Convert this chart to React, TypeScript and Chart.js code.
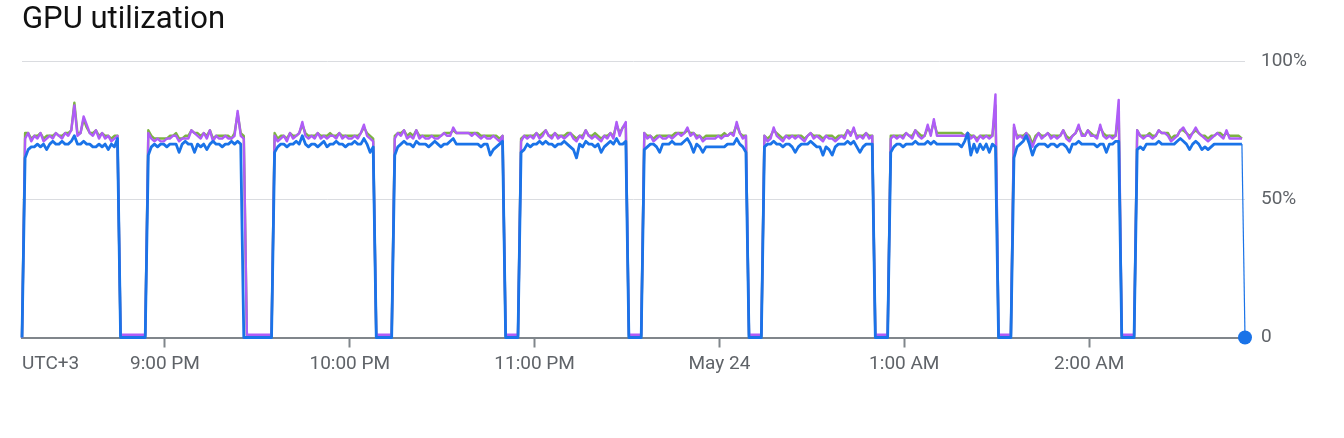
import { useEffect, useRef } from 'react';
import { Chart, registerables } from 'chart.js';

Chart.register(...registerables);

// Time axis: minutes after 8:00 PM (UTC+3), one sample per minute
const firstSampleMinute = 13.6;
const sampleStepMinutes = 1;
const axisMinMinute = 13.6;
const axisMaxMinute = 410.6;
const timeTickMinutes = [60, 120, 180, 240, 300, 360];
const timeTickLabels = ['9:00 PM', '10:00 PM', '11:00 PM', 'May 24', '1:00 AM', '2:00 AM'];
const timezoneLabel = 'UTC+3';

const valueTicks = [0, 50, 100];
const valueTickLabels = ['0', '50%', '100%'];

const chartTitle = 'GPU utilization';
const seriesNames = ['GPU 0', 'GPU 1', 'GPU 2'];

// GPU utilization (%) per minute, blue series (last value is the live point)
const blueValues = [
  0,
  65, 68, 69, 69, 70, 69, 70, 68, 70, 71, 70, 70, 71, 70, 70, 71, 73, 70, 70, 71, 70, 70, 69, 69, 70, 69, 70, 68, 70, 69, 72,
  0, 0, 0, 0, 0, 0, 0, 0, 0,
  66, 69, 70, 69, 70, 70, 69, 70, 70, 70, 67, 70, 71, 70, 70, 67, 70, 69, 70, 68, 70, 71, 70, 70, 69, 70, 70, 71, 70, 71, 70,
  0, 0, 0, 0, 0, 0, 0, 0, 0, 0,
  67, 69, 70, 70, 69, 70, 70, 71, 70, 73, 70, 69, 70, 70, 69, 70, 71, 69, 70, 70, 71, 70, 70, 69, 70, 70, 71, 70, 70, 72, 70, 67, 69,
  0, 0, 0, 0, 0, 0,
  66, 69, 70, 71, 70, 70, 69, 71, 70, 70, 70, 69, 70, 71, 70, 69, 70, 70, 71, 72, 70, 70, 70, 70, 70, 70, 70, 70, 69, 70, 70, 66, 68, 69, 70, 71,
  0, 0, 0, 0, 0,
  67, 68, 70, 69, 70, 70, 71, 70, 71, 70, 70, 69, 70, 70, 71, 70, 69, 68, 65, 70, 69, 71, 70, 70, 69, 70, 67, 69, 70, 71, 70, 72, 70, 70, 71,
  0, 0, 0, 0, 0,
  68, 69, 70, 70, 69, 67, 70, 70, 70, 71, 70, 70, 70, 71, 72, 70, 67, 70, 69, 67, 69, 69, 69, 69, 69, 69, 69, 70, 70, 70, 72, 70, 69, 67,
  0, 0, 0, 0, 0,
  69, 70, 70, 71, 70, 70, 69, 70, 70, 69, 67, 69, 70, 70, 70, 71, 70, 69, 69, 66, 69, 68, 66, 69, 70, 70, 70, 71, 70, 71, 69, 67, 69, 70, 70, 70,
  0, 0, 0, 0, 0,
  67, 69, 70, 70, 69, 70, 70, 70, 71, 70, 70, 70, 71, 70, 71, 70, 70, 70, 70, 70, 70, 70, 70, 69, 71, 74, 66, 70, 67, 70, 68, 70, 67, 70, 69,
  0, 0, 0, 0, 0,
  65, 69, 70, 71, 73, 70, 66, 69, 70, 70, 70, 69, 70, 70, 69, 70, 70, 69, 67, 70, 70, 71, 70, 70, 70, 70, 70, 69, 70, 70, 67, 70, 70, 71, 71,
  0, 0, 0, 0, 0,
  68, 69, 68, 70, 70, 70, 70, 71, 70, 70, 70, 70, 70, 71, 72, 71, 70, 68, 70, 71, 70, 68, 69, 68, 69, 70, 70, 70, 70, 70, 70, 70, 70, 70, 70,
  0,
];

// purple series
const purpleValues = [
  0,
  72, 74, 71, 73, 72, 74, 71, 72, 73, 72, 74, 73, 72, 74, 73, 75, 84, 73, 74, 80, 77, 74, 73, 75, 72, 74, 72, 73, 71, 72, 73,
  1, 1, 1, 1, 1, 1, 1, 1, 1,
  74, 72, 71, 72, 71, 71, 72, 72, 73, 73, 71, 72, 72, 72, 75, 74, 73, 72, 74, 72, 75, 71, 73, 72, 72, 73, 72, 72, 73, 82, 73, 72,
  1, 1, 1, 1, 1, 1, 1, 1, 1,
  73, 71, 72, 73, 71, 74, 72, 73, 74, 78, 73, 72, 73, 72, 74, 72, 73, 72, 73, 73, 72, 74, 72, 73, 72, 72, 73, 72, 74, 77, 73, 72, 71,
  1, 1, 1, 1, 1, 1,
  72, 74, 73, 75, 72, 73, 72, 75, 72, 73, 72, 72, 73, 72, 72, 73, 74, 73, 73, 76, 74, 74, 74, 74, 74, 73, 74, 73, 72, 73, 72, 72, 73, 72, 71, 73,
  1, 1, 1, 1, 1,
  71, 73, 72, 73, 72, 74, 72, 73, 75, 73, 72, 74, 72, 73, 72, 73, 74, 72, 71, 73, 72, 75, 73, 72, 73, 72, 71, 73, 72, 74, 72, 78, 73, 76, 78,
  1, 1, 1, 1, 1,
  74, 72, 73, 71, 72, 73, 72, 72, 73, 72, 73, 74, 73, 74, 76, 73, 74, 72, 73, 71, 72, 72, 72, 72, 73, 72, 73, 73, 74, 73, 78, 74, 72, 73,
  1, 1, 1, 1, 1,
  73, 71, 72, 76, 73, 72, 71, 73, 72, 73, 72, 73, 72, 71, 73, 74, 72, 73, 72, 71, 73, 72, 72, 71, 72, 73, 72, 75, 73, 76, 72, 73, 72, 74, 72, 73,
  1, 1, 1, 1, 1,
  72, 73, 72, 73, 72, 74, 73, 72, 75, 73, 72, 73, 77, 73, 79, 73, 73, 73, 73, 73, 73, 73, 73, 73, 73, 74, 72, 73, 71, 73, 72, 73, 72, 73, 88,
  1, 1, 1, 1, 1,
  77, 72, 73, 72, 74, 72, 69, 72, 74, 72, 73, 74, 72, 73, 72, 73, 75, 72, 71, 73, 74, 77, 73, 73, 75, 73, 73, 72, 77, 73, 72, 73, 72, 73, 86,
  1, 1, 1, 1, 1,
  75, 73, 72, 73, 73, 72, 73, 75, 74, 74, 73, 71, 72, 73, 75, 76, 74, 72, 74, 76, 74, 73, 72, 71, 72, 73, 74, 73, 72, 75, 72, 72, 72, 72, 72,
];

// green series
const greenValues = [
  0,
  74, 74, 72, 73, 73, 74, 72, 73, 73, 73, 74, 73, 73, 74, 74, 75, 85, 74, 74, 79, 76, 74, 74, 75, 73, 74, 73, 73, 72, 73, 73,
  0.5, 0.5, 0.5, 0.5, 0.5, 0.5, 0.5, 0.5, 0.5,
  75, 73, 72, 72, 72, 72, 72, 73, 73, 74, 72, 72, 73, 73, 75, 74, 74, 73, 74, 73, 75, 72, 73, 73, 73, 73, 73, 72, 74, 81, 74, 73,
  0.5, 0.5, 0.5, 0.5, 0.5, 0.5, 0.5, 0.5, 0.5,
  74, 72, 73, 73, 72, 74, 73, 73, 74, 77, 74, 73, 73, 73, 74, 73, 73, 73, 74, 73, 73, 74, 73, 73, 73, 73, 73, 73, 74, 76, 74, 73, 72,
  0.5, 0.5, 0.5, 0.5, 0.5, 0.5,
  73, 74, 74, 75, 73, 74, 73, 75, 73, 73, 73, 73, 73, 73, 73, 73, 74, 74, 74, 75, 74, 74, 74, 74, 74, 74, 74, 74, 73, 73, 73, 73, 73, 73, 72, 73,
  0.5, 0.5, 0.5, 0.5, 0.5,
  72, 73, 73, 73, 73, 74, 73, 74, 75, 73, 73, 74, 73, 73, 73, 74, 74, 73, 72, 73, 73, 75, 73, 73, 74, 73, 72, 73, 73, 74, 73, 77, 74, 76, 77,
  0.5, 0.5, 0.5, 0.5, 0.5,
  74, 73, 73, 72, 73, 73, 73, 73, 73, 73, 74, 74, 74, 74, 75, 74, 74, 73, 73, 72, 73, 73, 73, 73, 73, 73, 74, 73, 74, 74, 77, 74, 73, 73,
  0.5, 0.5, 0.5, 0.5, 0.5,
  73, 72, 73, 75, 74, 73, 72, 73, 73, 73, 73, 73, 73, 72, 73, 74, 73, 73, 73, 72, 73, 73, 73, 72, 73, 73, 73, 75, 74, 75, 73, 73, 73, 74, 73, 73,
  0.5, 0.5, 0.5, 0.5, 0.5,
  73, 73, 73, 73, 73, 74, 73, 73, 75, 74, 73, 73, 76, 74, 78, 74, 74, 74, 74, 74, 74, 74, 74, 74, 73, 74, 73, 73, 72, 73, 73, 73, 73, 73, 84,
  0.5, 0.5, 0.5, 0.5, 0.5,
  76, 73, 73, 73, 74, 73, 70, 73, 74, 73, 73, 74, 73, 73, 73, 73, 75, 73, 72, 73, 74, 76, 74, 73, 75, 74, 73, 73, 76, 74, 73, 73, 73, 73, 82,
  0.5, 0.5, 0.5, 0.5, 0.5,
  75, 73, 73, 73, 74, 73, 73, 75, 74, 74, 74, 72, 73, 73, 75, 75, 74, 73, 74, 75, 74, 73, 73, 72, 73, 73, 74, 74, 73, 74, 73, 73, 73, 73, 72,
];

const BLUE = '#1a73e8';
const PURPLE = '#af5cf7';
const GREEN = '#7cb342';
const LABEL_GREY = '#5f6368';
const TICK_FONT_SIZE = 19;
const X_TICK_LENGTH = 10;
const X_TICK_PADDING = 5;

function toPoints(values: number[]) {
  return values.map((v, i) => ({ x: firstSampleMinute + i * sampleStepMinutes, y: v }));
}

const timezonePlugin = {
  id: 'timezoneLabel',
  afterDraw(chart: any) {
    const xs = chart.scales.x;
    const ctx = chart.ctx;
    const lineHeight = TICK_FONT_SIZE * 1.2;
    ctx.save();
    ctx.font = `${TICK_FONT_SIZE}px Roboto`;
    ctx.fillStyle = LABEL_GREY;
    ctx.textAlign = 'left';
    ctx.textBaseline = 'middle';
    ctx.fillText(timezoneLabel, chart.chartArea.left, xs.top + X_TICK_LENGTH + X_TICK_PADDING + lineHeight / 2);
    ctx.restore();
  },
};

export default function App() {
  const canvasRef = useRef<HTMLCanvasElement | null>(null);

  useEffect(() => {
    document.body.style.margin = '0';
    const canvas = canvasRef.current;
    if (!canvas) return;
    Chart.defaults.font.family = 'Roboto';

    const lastIndex = blueValues.length - 1;
    const chart = new Chart(canvas, {
      type: 'line',
      data: {
        datasets: [
          {
            label: seriesNames[0],
            data: toPoints(blueValues),
            borderColor: BLUE,
            backgroundColor: BLUE,
            borderWidth: 2.8,
            borderJoinStyle: 'round',
            segment: {
              borderWidth: (ctx: any) => (ctx.p1DataIndex === lastIndex ? 1.2 : 2.8),
            },
            pointRadius: (ctx: any) => (ctx.dataIndex === lastIndex ? 7 : 0),
            pointBorderWidth: 0,
            pointBackgroundColor: BLUE,
            tension: 0,
            clip: false as any,
          },
          {
            label: seriesNames[1],
            data: toPoints(purpleValues),
            borderColor: PURPLE,
            backgroundColor: PURPLE,
            borderWidth: 2.4,
            borderJoinStyle: 'round',
            pointRadius: 0,
            tension: 0,
            clip: false as any,
          },
          {
            label: seriesNames[2],
            data: toPoints(greenValues),
            borderColor: GREEN,
            backgroundColor: GREEN,
            borderWidth: 2.4,
            borderJoinStyle: 'round',
            pointRadius: 0,
            tension: 0,
            clip: false as any,
          },
        ],
      },
      options: {
        responsive: false,
        animation: false,
        events: [],
        layout: { padding: { left: 22, right: 0, top: 0, bottom: 0 } },
        plugins: {
          legend: { display: false },
          tooltip: { enabled: false },
          title: {
            display: true,
            text: chartTitle,
            align: 'start',
            color: '#111111',
            font: { size: 31, weight: 'normal', family: 'Roboto', lineHeight: 1.2 },
            padding: { top: 1.5, bottom: 22.5 },
          },
        },
        scales: {
          x: {
            type: 'linear',
            min: axisMinMinute,
            max: axisMaxMinute,
            afterBuildTicks: (scale: any) => {
              scale.ticks = timeTickMinutes.map((v) => ({ value: v }));
            },
            afterFit: (scale: any) => {
              scale.height = 100.5;
            },
            ticks: {
              autoSkip: false,
              maxRotation: 0,
              padding: X_TICK_PADDING,
              color: LABEL_GREY,
              font: { size: TICK_FONT_SIZE, family: 'Roboto' },
              callback: (v: any) => {
                const i = timeTickMinutes.indexOf(Number(v));
                return i >= 0 ? timeTickLabels[i] : '';
              },
            },
            grid: {
              display: true,
              drawOnChartArea: false,
              drawTicks: true,
              tickLength: X_TICK_LENGTH,
              tickColor: '#80868b',
              tickWidth: 2,
            },
            border: { display: true, color: '#80868b', width: 2 },
          },
          y: {
            type: 'linear',
            position: 'right',
            min: 0,
            max: 100,
            afterBuildTicks: (scale: any) => {
              scale.ticks = valueTicks.map((v) => ({ value: v }));
            },
            afterFit: (scale: any) => {
              scale.width = 99;
            },
            ticks: {
              padding: 16,
              color: LABEL_GREY,
              font: { size: TICK_FONT_SIZE, family: 'Roboto' },
              callback: (v: any) => {
                const i = valueTicks.indexOf(Number(v));
                return i >= 0 ? valueTickLabels[i] : '';
              },
            },
            grid: {
              drawTicks: false,
              lineWidth: 1,
              color: (ctx: any) => (ctx.tick && ctx.tick.value === 0 ? 'rgba(0,0,0,0)' : '#dadce0'),
            },
            border: { display: false },
          },
        },
      },
      plugins: [timezonePlugin],
    });

    return () => chart.destroy();
  }, []);

  return (
    <div style={{ width: 1344, height: 438 }}>
      <canvas ref={canvasRef} width={1344} height={438} style={{ display: 'block' }} />
    </div>
  );
}
